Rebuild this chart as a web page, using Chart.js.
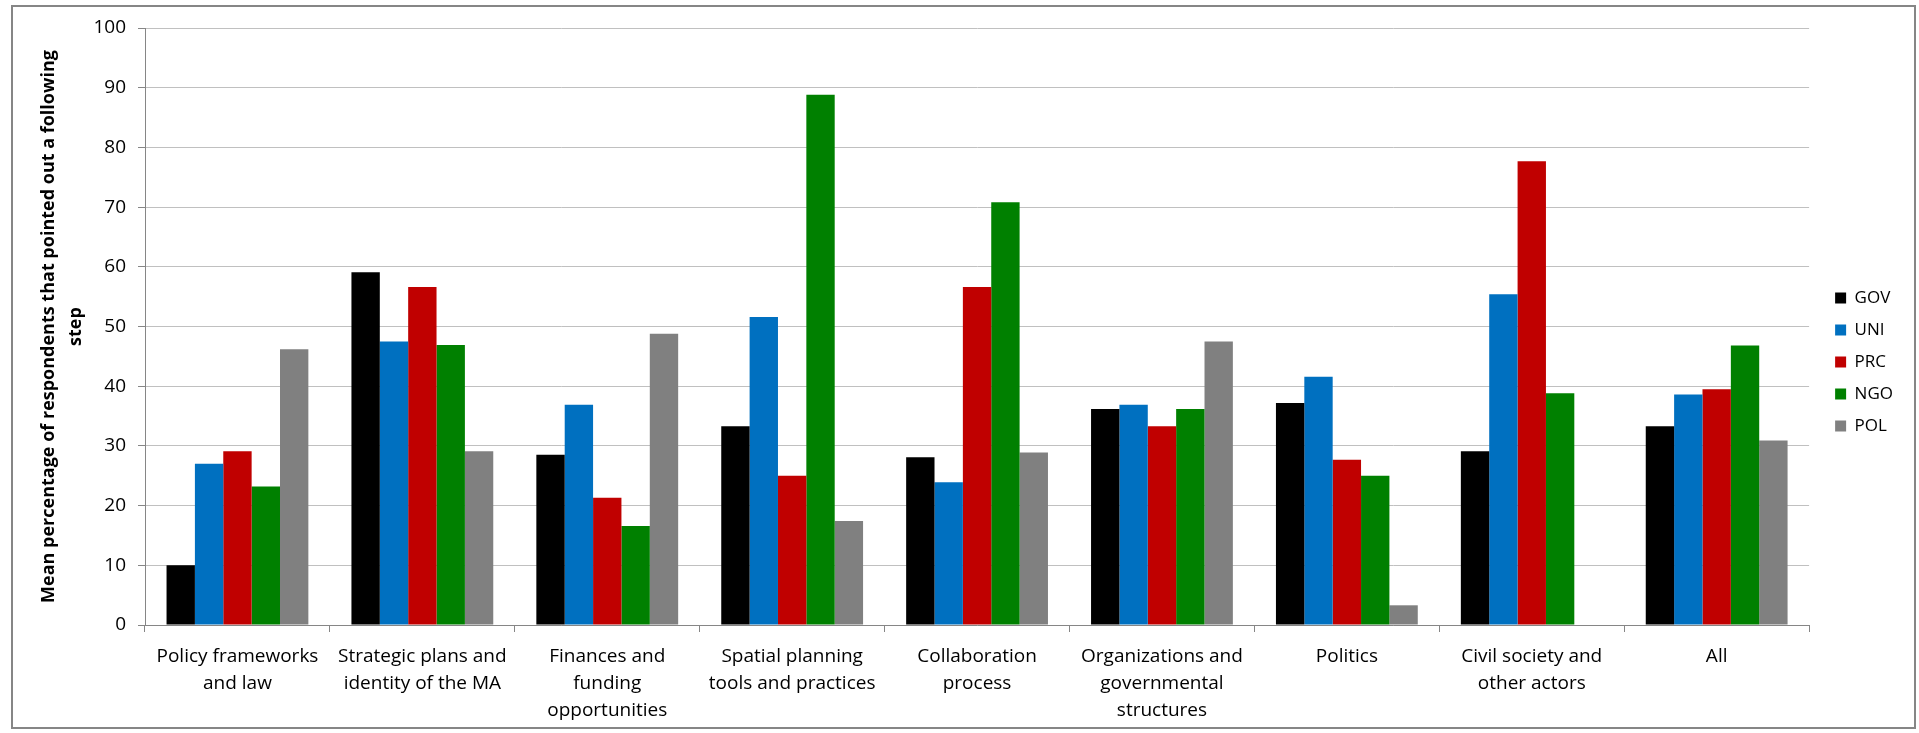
<!DOCTYPE html>
<html>
<head>
<meta charset="utf-8">
<script src="https://cdn.jsdelivr.net/npm/chart.js@4/dist/chart.umd.min.js"></script>
<style>
  html, body { margin: 0; padding: 0; background: #fff; }
  #chart { display: block; }
</style>
</head>
<body>
<canvas id="chart" width="1919" height="733"></canvas>
<script>
// Categories (x axis), multi-line labels
const categories = [
    ['Policy frameworks', 'and law'],
    ['Strategic plans and', 'identity of the MA'],
    ['Finances and', 'funding', 'opportunities'],
    ['Spatial planning', 'tools and practices'],
    ['Collaboration', 'process'],
    ['Organizations and', 'governmental', 'structures'],
    ['Politics'],
    ['Civil society and', 'other actors'],
    ['All']
];

// Series values (mean % of respondents)
const gov = [10.0, 59.1, 28.5, 33.3, 28.1, 36.2, 37.2, 29.1, 33.3];
const uni = [27.0, 47.5, 36.9, 51.6, 23.9, 36.9, 41.6, 55.4, 38.6];
const prc = [29.1, 56.6, 21.3, 25.0, 56.6, 33.3, 27.7, 77.7, 39.5];
const ngo = [23.2, 46.9, 16.6, 88.8, 70.8, 36.2, 25.0, 38.8, 46.8];
const pol = [46.2, 29.1, 48.8, 17.4, 28.9, 47.5, 3.3, 0, 30.9];

const seriesNames = ['GOV', 'UNI', 'PRC', 'NGO', 'POL'];
const seriesColors = ['#000000', '#0070C0', '#C00000', '#008000', '#808080'];
const seriesValues = [gov, uni, prc, ngo, pol];

const yTitle = ['Mean percentage of respondents that pointed out a following', 'step'];

const font = 'Open Sans';
const axisGray = '#868686';

// outer frame round the whole chart
const framePlugin = {
    id: 'frame',
    beforeDraw(chart) {
        const ctx = chart.ctx;
        ctx.save();
        ctx.fillStyle = '#fff';
        ctx.fillRect(0, 0, chart.width, chart.height);
        ctx.strokeStyle = axisGray;
        ctx.lineWidth = 2;
        ctx.strokeRect(12, 6, 1903, 722);
        ctx.restore();
    }
};

// nudge legend away from plot and up a little
const legendShift = {
    id: 'legendShift',
    afterLayout(chart) {
        const lg = chart.legend;
        lg.left += 11;
        lg.right += 11;
        lg.top -= 16;
        lg.bottom -= 16;
    }
};

new Chart(document.getElementById('chart'), {
    type: 'bar',
    data: {
        labels: categories,
        datasets: seriesNames.map((name, i) => ({
            label: name,
            data: seriesValues[i],
            backgroundColor: seriesColors[i],
            borderWidth: 0,
            barPercentage: 1,
            categoryPercentage: 0.767
        }))
    },
    options: {
        responsive: false,
        animation: false,
        devicePixelRatio: 1,
        layout: { padding: { left: 20, right: 27, top: 28, bottom: 5 } },
        plugins: {
            legend: {
                position: 'right',
                labels: {
                    boxWidth: 11,
                    boxHeight: 11,
                    padding: 15,
                    color: '#000',
                    font: { family: font, size: 17 }
                }
            },
            tooltip: { enabled: false }
        },
        scales: {
            x: {
                grid: {
                    offset: true,
                    drawOnChartArea: false,
                    tickLength: 7,
                    color: axisGray
                },
                border: { color: axisGray, width: 1 },
                ticks: {
                    color: '#000',
                    padding: 11,
                    maxRotation: 0,
                    autoSkip: false,
                    font: { family: font, size: 19, lineHeight: 1.42 }
                },
                afterFit(scale) { scale.height = 103; }
            },
            y: {
                min: 0,
                max: 100,
                ticks: {
                    stepSize: 10,
                    color: '#000',
                    padding: 12,
                    font: { family: font, size: 19 }
                },
                grid: {
                    color: '#c0c0c0',
                    tickColor: axisGray,
                    tickLength: 7
                },
                border: { color: axisGray, width: 1 },
                title: {
                    display: true,
                    text: yTitle,
                    color: '#000',
                    padding: { top: 15, bottom: 0 },
                    font: { family: font, size: 18, weight: 'bold', lineHeight: 1.5 }
                },
                afterFit(scale) { scale.width = 125; }
            }
        }
    },
    plugins: [framePlugin, legendShift]
});
</script>
</body>
</html>
